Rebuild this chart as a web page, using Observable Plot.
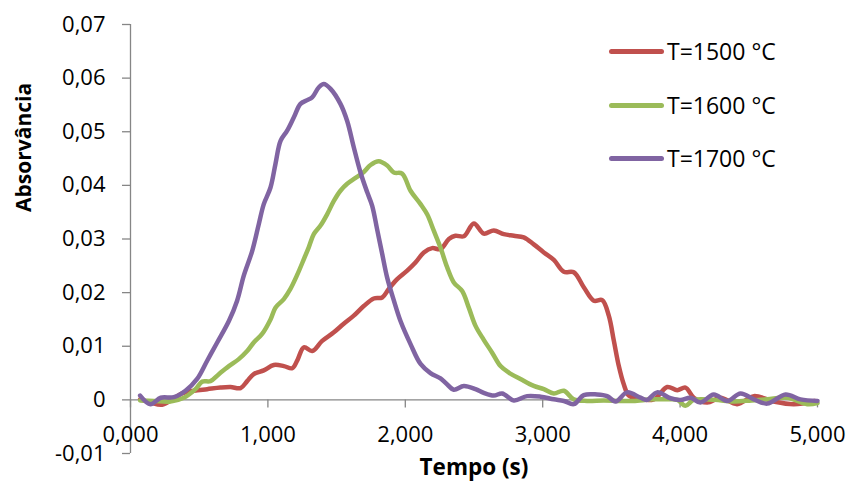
<!DOCTYPE html>
<html>
<head>
<meta charset="utf-8">
<script src="https://cdn.jsdelivr.net/npm/d3@7"></script>
<script src="https://cdn.jsdelivr.net/npm/@observablehq/plot@0.6"></script>
<style>
  html, body { margin: 0; padding: 0; background: #fff; }
  #wrap { position: relative; width: 850px; height: 488px; font-family: "Open Sans", sans-serif; }
  #legend { position: absolute; left: 609px; top: 0; }
  .item { position: absolute; left: 0; display: flex; align-items: center; white-space: nowrap; font-size: 23px; color: #000; }
  .swatch { width: 55px; height: 5px; border-radius: 3px; margin-right: 3px; }
</style>
</head>
<body>
<div id="wrap"><div id="legend"></div></div>
<script>
const seriesNames = ["T=1500 °C", "T=1600 °C", "T=1700 °C"];
const seriesColors = ["#C0504D", "#9BBB59", "#8064A2"];

const tempo1500 = [70,146,230,303,376,461,558,655,728,801,849,897,970,1043,1116,1177,1213,1262,1322,1395,1480,1552,1625,1698,1771,1832,1880,1941,2014,2074,2135,2196,2256,2317,2365,2426,2499,2571,2644,2717,2790,2862,2935,3008,3081,3154,3226,3299,3372,3433,3481,3518,3554,3590,3627,3690,3809,3906,3979,4039,4100,4197,4294,4415,4537,4682,4828,4980];
const abs1500 = [0.0001,-0.0005,-0.0009,0.0001,0.0012,0.0017,0.002,0.0023,0.0024,0.0022,0.0035,0.0048,0.0055,0.0065,0.0063,0.0059,0.0073,0.0098,0.0091,0.011,0.0126,0.0142,0.0157,0.0175,0.0189,0.0191,0.0207,0.0225,0.0241,0.0256,0.0275,0.0283,0.0281,0.03,0.0306,0.0305,0.0329,0.031,0.0316,0.0309,0.0306,0.0303,0.029,0.0275,0.0261,0.0239,0.0238,0.021,0.0185,0.0186,0.0157,0.011,0.0063,0.0029,0.0008,0.0002,0.0001,0.0024,0.0018,0.0023,0.0004,-0.0005,0.0004,-0.0008,0.0007,-0.0003,-0.0008,-0.0002];

const tempo1600 = [70,170,291,388,473,522,582,643,716,788,849,897,958,1019,1055,1116,1164,1213,1261,1298,1334,1383,1431,1480,1528,1577,1638,1698,1747,1807,1868,1917,1977,2038,2111,2159,2208,2256,2305,2353,2414,2462,2511,2571,2632,2693,2753,2838,2935,3008,3081,3154,3226,3323,3445,3566,3660,3800,3906,3980,4039,4100,4250,4391,4520,4634,4780,4925,5000];
const abs1600 = [-0.0001,-0.0002,-0.0003,0.0004,0.002,0.0034,0.0035,0.0048,0.0063,0.0076,0.0091,0.0107,0.0123,0.015,0.0172,0.0188,0.0207,0.0233,0.0262,0.0285,0.0309,0.0325,0.0346,0.0371,0.039,0.0403,0.0414,0.0425,0.0438,0.0445,0.0437,0.0424,0.0422,0.039,0.0365,0.0346,0.0315,0.0284,0.0247,0.0219,0.0203,0.0172,0.0138,0.0112,0.0088,0.0063,0.0051,0.0039,0.0026,0.002,0.0012,0.0017,0.0001,-0.0002,-0.0001,-0.0002,-0.0002,0.0001,0.0001,0.0,-0.0011,0.0,0.0,-0.0003,-0.0001,0.0001,0.0004,-0.0008,-0.0006];

const tempo1700 = [70,145,220,315,400,485,558,631,716,776,825,886,934,970,1019,1055,1092,1140,1189,1237,1286,1322,1371,1407,1456,1528,1577,1625,1674,1723,1759,1795,1832,1868,1917,1965,2038,2111,2183,2256,2300,2353,2426,2511,2571,2644,2705,2790,2887,2984,3081,3154,3226,3299,3396,3469,3530,3615,3712,3760,3833,3930,4003,4076,4148,4245,4343,4440,4537,4634,4767,4876,5000];
const abs1700 = [0.0008,-0.0008,0.0004,0.0005,0.0017,0.0039,0.0073,0.0107,0.0147,0.0185,0.0232,0.0278,0.0328,0.0365,0.0396,0.044,0.0483,0.0502,0.0527,0.0552,0.0559,0.0564,0.0583,0.0589,0.058,0.0552,0.052,0.0471,0.0424,0.0387,0.0362,0.0318,0.0272,0.0228,0.0185,0.0147,0.0104,0.0067,0.005,0.004,0.003,0.0019,0.0026,0.002,0.0013,0.0008,0.0012,-0.0001,0.0007,0.0006,0.0001,-0.0002,-0.0008,0.0009,0.001,0.0007,-0.0003,0.0014,0.0004,0.0,0.0014,0.0003,0.0,0.0004,-0.0005,0.001,-0.0002,0.0012,0.0001,-0.0007,0.001,0.0001,-0.0002];

const xTicks = [0, 1000, 2000, 3000, 4000, 5000];
const yTicks = [-0.01, 0, 0.01, 0.02, 0.03, 0.04, 0.05, 0.06, 0.07];
const xTitle = "Tempo (s)";
const yTitle = "Absorvância";

const fmtX = d => (d / 1000).toFixed(3).replace(".", ",");
const fmtY = d => d === 0 ? "0" : d.toFixed(2).replace(".", ",");

const toRows = (ts, as, name) => ts.map((t, i) => ({t, a: as[i], serie: name}));
const rows = [
  ...toRows(tempo1500, abs1500, seriesNames[0]),
  ...toRows(tempo1600, abs1600, seriesNames[1]),
  ...toRows(tempo1700, abs1700, seriesNames[2])
];

const axisColor = "#868686";

const chart = Plot.plot({
  width: 850,
  height: 488,
  marginLeft: 130,
  marginRight: 33,
  marginTop: 24,
  marginBottom: 35,
  style: {fontFamily: "'Open Sans', sans-serif", background: "transparent", color: "#000"},
  x: {domain: [0, 5000], axis: null},
  y: {domain: [-0.01, 0.07], axis: null},
  color: {domain: seriesNames, range: seriesColors},
  marks: [
    Plot.ruleX([0], {y1: -0.01, y2: 0.07, stroke: axisColor, strokeWidth: 1.3}),
    Plot.axisY({ticks: yTicks, tickFormat: fmtY, tickSize: 8, tickPadding: 17, fontSize: 22, stroke: axisColor, strokeWidth: 1.3, color: "#000", label: null}),
    Plot.ruleY([0], {stroke: axisColor, strokeWidth: 1.3}),
    Plot.ruleX(xTicks, {x: d => d, y1: 0, y2: 0, insetBottom: -8, stroke: axisColor, strokeWidth: 1.3}),
    Plot.line(rows, {x: "t", y: "a", z: "serie", stroke: "serie", strokeWidth: 4.5, curve: "catmull-rom", strokeLinejoin: "round", strokeLinecap: "round"}),
    Plot.text(xTicks, {x: d => d, y: 0, dy: 35, text: fmtX, fontSize: 22, fill: "#000"}),
    Plot.text([xTitle], {frameAnchor: "bottom", dy: 21, fontSize: 22.5, fontWeight: "bold", fill: "#000"}),
    Plot.text([yTitle], {frameAnchor: "left", dx: -106, dy: -27, rotate: -90, fontSize: 21, fontWeight: "bold", fill: "#000"})
  ]
});

const wrap = document.getElementById("wrap");
wrap.insertBefore(chart, wrap.firstChild);

const legend = document.getElementById("legend");
const legendTops = [51, 105, 158];
seriesNames.forEach((name, i) => {
  const item = document.createElement("div");
  item.className = "item";
  item.style.top = (legendTops[i] - 15) + "px";
  item.style.height = "30px";
  const sw = document.createElement("div");
  sw.className = "swatch";
  sw.style.background = seriesColors[i];
  const label = document.createElement("span");
  label.textContent = name;
  item.appendChild(sw);
  item.appendChild(label);
  legend.appendChild(item);
});
</script>
</body>
</html>
